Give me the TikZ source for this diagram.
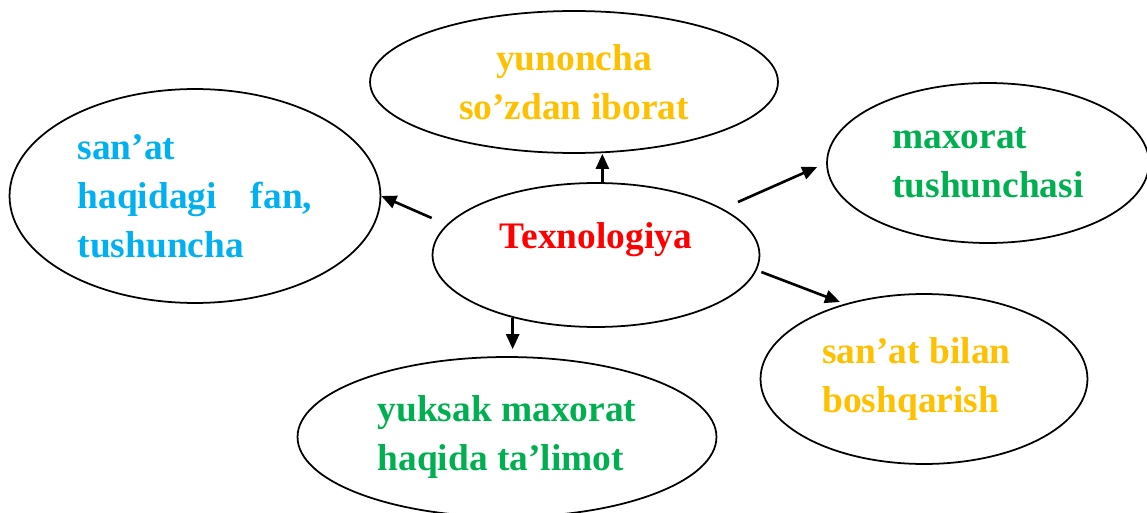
\documentclass[tikz,border=0pt]{standalone}
\usepackage{fontspec}
\setmainfont{Liberation Serif}
\usetikzlibrary{shapes.geometric, arrows.meta, calc}

\definecolor{sariq}{HTML}{FFC000}
\definecolor{yashil}{HTML}{00B050}
\definecolor{havo}{HTML}{00B0F0}

\tikzset{
	oval/.style={ellipse, draw, line width=1pt, inner sep=0pt, font=\fontsize{21.3pt}{28pt}\selectfont\bfseries},
	arr/.style={-{Triangle[length=0.3cm, width=0.26cm]}, line width=1.5pt},
}

\begin{document}
\begin{tikzpicture}[x=0.02cm, y=-0.02cm]
	\useasboundingbox (0,0) rectangle (1147,513);
	\node (t) [oval, minimum width=6.54cm, minimum height=2.88cm, text=red] at (596,255) {\raisebox{0.3cm}[\height][\depth]{Texnologiya}};
	\node (yun) [oval, minimum width=8.16cm, minimum height=2.84cm, align=center, text=sariq] at (574,82) {yunoncha\\so’zdan iborat};
	\node (san) [oval, minimum width=7.42cm, minimum height=4.28cm, align=left, text=havo] at (195,196) {san’at\\haqidagi\hspace{0.68cm}fan,\\tushuncha};
	\node (max) [oval, minimum width=6.44cm, minimum height=3.2cm, align=left, text=yashil] at (988,163) {maxorat\\tushunchasi};
	\node (bosh) [oval, minimum width=6.54cm, minimum height=3.4cm, align=left, text=sariq] at (924,379) {\hspace*{-0.3cm}san’at bilan\\\hspace*{-0.3cm}boshqarish};
	\node (yuk) [oval, minimum width=8.38cm, minimum height=3.2cm, align=left, text=yashil] at (507,437) {yuksak maxorat\\haqida ta’limot};
	\path
		(t.85) edge [arr] (t.85 |- yun.south)
		($(t.west)+(0,-37)$) edge [arr] (san.east)
		($(t.center)+(142,-53)$) edge [arr] ($(max.west)+(-9,4)$)
		($(t.east)+(1,17)$) edge [arr] ($(bosh.center)+(-84,-77)$)
		(t.217) edge [arr, shorten >=0.14cm] (t.217 |- yuk.north)
	;
\end{tikzpicture}
\end{document}
